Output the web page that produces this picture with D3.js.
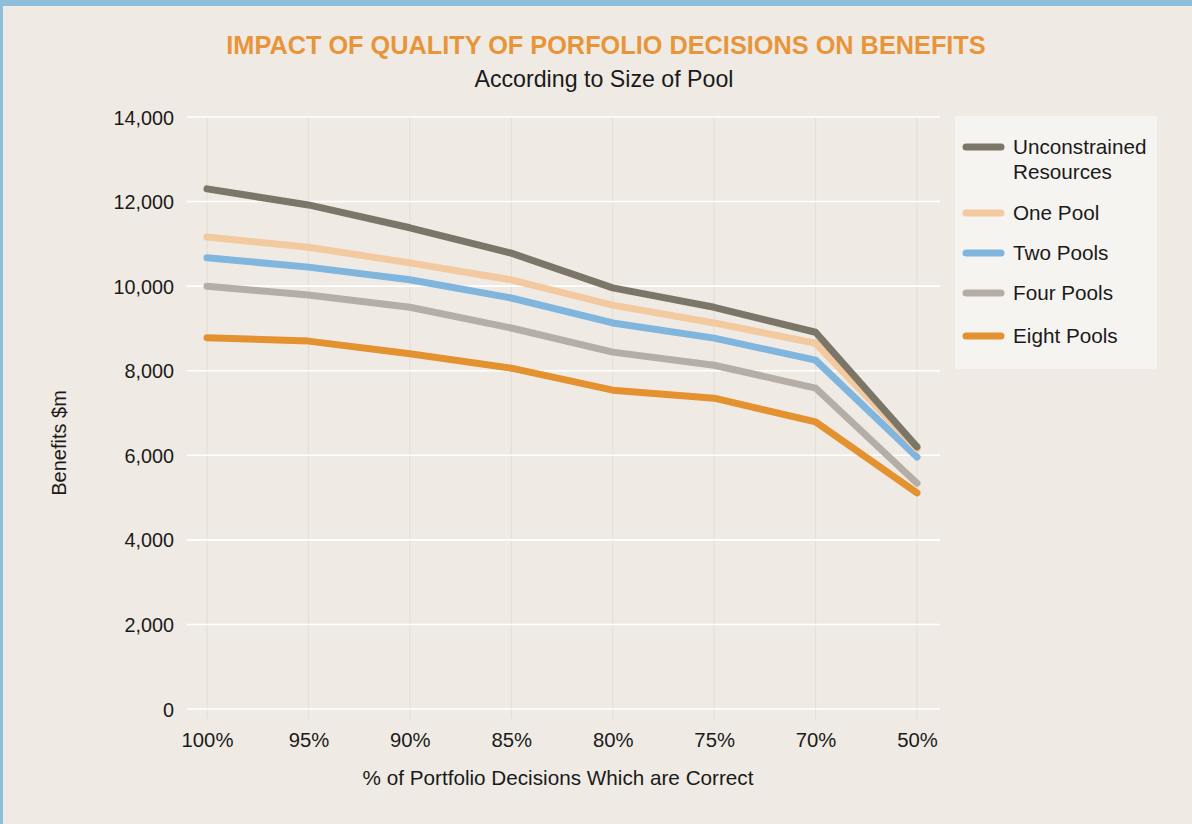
<!DOCTYPE html>
<html>
<head>
<meta charset="utf-8">
<script src="https://cdn.jsdelivr.net/npm/d3@7"></script>
<style>
  html, body { margin: 0; padding: 0; background: #efebe4; }
  svg { display: block; }
  text { font-family: "Liberation Sans", Arial, Helvetica, sans-serif; fill: #1a1a1a; }
</style>
</head>
<body>
<svg id="chart" width="1192" height="824"></svg>
<script>
const categories = ["100%", "95%", "90%", "85%", "80%", "75%", "70%", "50%"];
const yTicks = [0, 2000, 4000, 6000, 8000, 10000, 12000, 14000];

const unconstrained = [12300, 11920, 11380, 10780, 9960, 9500, 8910, 6200];
const onePool       = [11160, 10920, 10550, 10150, 9550, 9130, 8650, 6150];
const twoPools      = [10670, 10450, 10150, 9720, 9130, 8770, 8250, 5960];
const fourPools     = [10000, 9790, 9500, 9010, 8440, 8130, 7590, 5340];
const eightPools    = [8780, 8700, 8400, 8060, 7540, 7350, 6790, 5110];

const seriesNames  = ["Unconstrained Resources", "One Pool", "Two Pools", "Four Pools", "Eight Pools"];
const seriesValues = [unconstrained, onePool, twoPools, fourPools, eightPools];
const seriesColors = ["#7b7668", "#f3c9a0", "#80b5de", "#b4aea6", "#e4922f"];

const title = "IMPACT OF QUALITY OF PORFOLIO DECISIONS ON BENEFITS";
const subtitle = "According to Size of Pool";
const xTitle = "% of Portfolio Decisions Which are Correct";
const yTitle = "Benefits $m";

const svg = d3.select("#chart");
const W = 1192, H = 824;

// background and frame
svg.append("rect").attr("x", 0).attr("y", 0).attr("width", W).attr("height", H).attr("fill", "#efebe4");
svg.append("rect").attr("x", 0).attr("y", 0).attr("width", W).attr("height", 6).attr("fill", "#8fbedd");
svg.append("rect").attr("x", 0).attr("y", 0).attr("width", 3).attr("height", H).attr("fill", "#8fbedd");

const x = d3.scalePoint().domain(categories).range([207, 917]);
const y = d3.scaleLinear().domain([0, 14000]).range([709, 117]);

// vertical gridlines
svg.append("g").selectAll("line").data(categories).join("line")
  .attr("x1", d => x(d)).attr("x2", d => x(d))
  .attr("y1", y(14000)).attr("y2", y(0) + 10)
  .attr("stroke", "#e4dfd5").attr("stroke-width", 1.2);

// horizontal gridlines
svg.append("g").selectAll("line").data(yTicks).join("line")
  .attr("x1", 187).attr("x2", 940)
  .attr("y1", d => y(d)).attr("y2", d => y(d))
  .attr("stroke", "#ffffff").attr("stroke-width", 1.6);

// y axis labels
const yAxis = d3.axisLeft(y).tickValues(yTicks).tickFormat(d3.format(",")).tickSize(0).tickPadding(0);
const gy = svg.append("g").attr("transform", "translate(174,0)").call(yAxis);
gy.select(".domain").remove();
gy.selectAll("text").attr("font-size", "19.8px").attr("dy", "0.36em")
  .style("font-family", "'Liberation Sans', Arial, sans-serif").attr("fill", "#1a1a1a");

// x axis labels
const xAxis = d3.axisBottom(x).tickSize(0).tickPadding(0);
const gx = svg.append("g").attr("transform", "translate(0,733)").call(xAxis);
gx.select(".domain").remove();
gx.selectAll("text").attr("font-size", "20.3px").attr("dy", "0.71em")
  .style("font-family", "'Liberation Sans', Arial, sans-serif").attr("fill", "#1a1a1a");

// lines
const line = d3.line().x((d, i) => x(categories[i])).y(d => y(d)).curve(d3.curveLinear);
const order = [4, 3, 2, 1, 0];
svg.append("g").selectAll("path").data(order).join("path")
  .attr("d", i => line(seriesValues[i]))
  .attr("fill", "none")
  .attr("stroke", i => seriesColors[i])
  .attr("stroke-width", 7)
  .attr("stroke-linecap", "round")
  .attr("stroke-linejoin", "round");

// titles
svg.append("text").attr("x", 606).attr("y", 54).attr("text-anchor", "middle")
  .attr("font-size", "25.3px").attr("font-weight", "bold")
  .style("fill", "#e8953a").text(title);
svg.append("text").attr("x", 604).attr("y", 87).attr("text-anchor", "middle")
  .attr("font-size", "23.2px").text(subtitle);
svg.append("text").attr("x", 558).attr("y", 785).attr("text-anchor", "middle")
  .attr("font-size", "20.7px").text(xTitle);
svg.append("text").attr("transform", "translate(66,443) rotate(-90)").attr("text-anchor", "middle")
  .attr("font-size", "20px").text(yTitle);

// legend
const lg = svg.append("g");
lg.append("rect").attr("x", 955).attr("y", 116).attr("width", 202).attr("height", 253)
  .attr("rx", 3).attr("fill", "#f6f4f0");
const legendRows = [147, 213, 253, 293, 336];
const lgItems = lg.selectAll("g.item").data(seriesNames).join("g").attr("class", "item")
  .attr("transform", (d, i) => `translate(0,${legendRows[i]})`);
lgItems.append("line").attr("x1", 966).attr("x2", 1001).attr("y1", 0).attr("y2", 0)
  .attr("stroke", (d, i) => seriesColors[i]).attr("stroke-width", 7).attr("stroke-linecap", "round");
lgItems.each(function(d) {
  const g = d3.select(this);
  const parts = d === "Unconstrained Resources" ? ["Unconstrained", "Resources"] : [d];
  parts.forEach((p, k) => {
    g.append("text").attr("x", 1013).attr("y", 7 + k * 25).attr("font-size", "20.7px").text(p);
  });
});
</script>
</body>
</html>
